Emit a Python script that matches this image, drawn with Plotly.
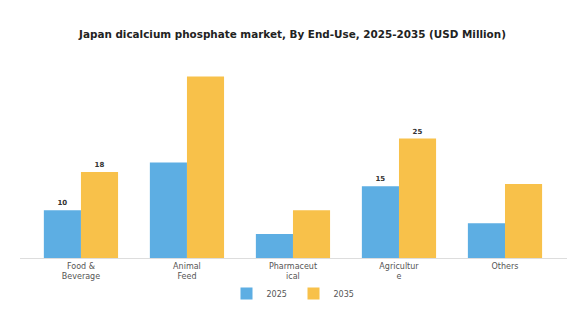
import plotly.graph_objects as go

categories = ["Food &<br>Beverage", "Animal<br>Feed", "Pharmaceut<br>ical", "Agricultur<br>e", "Others"]
values_2025 = [10, 20, 5, 15, 7.3]
values_2035 = [18, 38, 10, 25, 15.5]
labels_2025 = ["<b>10</b>", "", "", "<b>15</b>", ""]
labels_2035 = ["<b>18</b>", "", "", "<b>25</b>", ""]

blue = "#5DAEE3"
yellow = "#F8C14A"

fig = go.Figure()
fig.add_trace(go.Bar(x=categories, y=values_2025, name="2025", marker=dict(color=blue, line=dict(width=0)),
                     text=labels_2025, textposition="outside", cliponaxis=False,
                     textfont=dict(size=7, color="#333333", family="DejaVu Sans")))
fig.add_trace(go.Bar(x=categories, y=values_2035, name="2035", marker=dict(color=yellow, line=dict(width=0)),
                     text=labels_2035, textposition="outside", cliponaxis=False,
                     textfont=dict(size=7, color="#333333", family="DejaVu Sans")))

fig.update_layout(
    width=585, height=319,
    margin=dict(l=20, r=18, t=60, b=60),
    paper_bgcolor="white", plot_bgcolor="white",
    barmode="group", bargap=0.3, bargroupgap=0,
    title=dict(text="<b>Japan dicalcium phosphate market, By End-Use, 2025-2035 (USD Million)</b>",
               x=0.5, xanchor="center", y=0.893, yanchor="middle",
               font=dict(family="DejaVu Sans", size=10.4, color="#222222")),
    xaxis=dict(range=[-0.575, 4.585], showline=True, linecolor="#DDDDDD", linewidth=1,
               ticks="", tickfont=dict(family="DejaVu Sans", size=8, color="#555555"),
               showgrid=False),
    yaxis=dict(range=[0, 41.46], visible=False, showgrid=False),
    legend=dict(orientation="h", x=0.5, xanchor="center", y=-0.1, yanchor="top",
                itemwidth=30, entrywidth=22, entrywidthmode="pixels",
                bgcolor="rgba(0,0,0,0)",
                font=dict(family="DejaVu Sans", size=8, color="#555555")),
    showlegend=True,
)
fig.update_traces(textangle=0)
fig.write_html("out.html")
